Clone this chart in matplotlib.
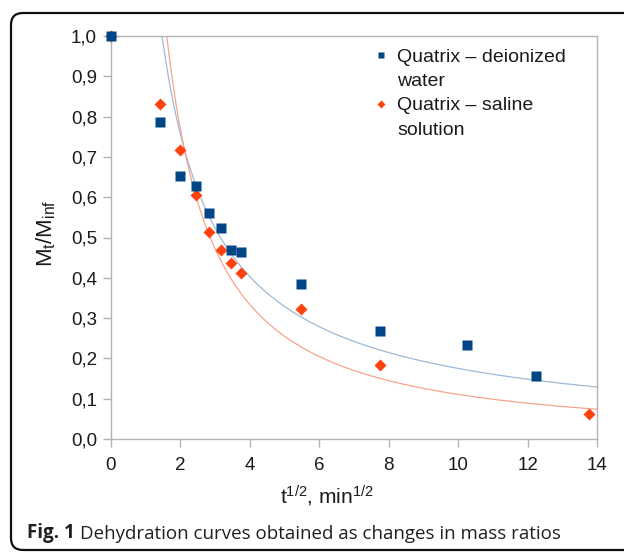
"""Dehydration curves of Quatrix in deionized water and saline solution."""

import numpy as np
import matplotlib
matplotlib.use("Agg")
import matplotlib.pyplot as plt
from matplotlib.lines import Line2D
from matplotlib.patches import FancyBboxPatch

BLUE = "#004586"
ORANGE = "#ff420e"
BLUE_TREND = "#9dbad6"
ORANGE_TREND = "#f7a48c"
AXIS_GRAY = "#b3b3b3"
TEXT = "#1a1a1a"

# measured points (t^1/2 in min^1/2, Mt/Minf)
deion_x = [0, 1.41, 2.0, 2.45, 2.83, 3.16, 3.46, 3.74, 5.48, 7.75, 10.25, 12.25]
deion_y = [1.0, 0.786, 0.653, 0.628, 0.562, 0.524, 0.469, 0.465, 0.384, 0.267, 0.233, 0.156]
saline_x = [0, 1.41, 2.0, 2.45, 2.83, 3.16, 3.46, 3.74, 5.48, 7.75, 13.78]
saline_y = [1.0, 0.831, 0.717, 0.605, 0.513, 0.469, 0.436, 0.411, 0.323, 0.184, 0.062]

# power trendlines y = a * x^b
deion_trend = (1.42, -0.909)
saline_trend = (1.77, -1.204)

labels = ["Quatrix – deionized", "water", "Quatrix – saline", "solution"]
xticks = [0, 2, 4, 6, 8, 10, 12, 14]
yticks = [0.0, 0.1, 0.2, 0.3, 0.4, 0.5, 0.6, 0.7, 0.8, 0.9, 1.0]
ytick_labels = [f"{v:.1f}".replace(".", ",") for v in yticks]
caption_bold = "Fig. 1"
caption_text = "Dehydration curves obtained as changes in mass ratios"

plt.rcParams["font.family"] = ["Liberation Sans", "DejaVu Sans"]
plt.rcParams["mathtext.fontset"] = "custom"
plt.rcParams["mathtext.rm"] = "Liberation Sans"
plt.rcParams["mathtext.it"] = "Liberation Sans"
plt.rcParams["mathtext.default"] = "regular"

fig = plt.figure(figsize=(6.24, 5.52), dpi=100)
ax = fig.add_axes([111 / 624, 1 - 439 / 552, 486 / 624, 403 / 552])

# trendlines
xs = np.linspace(0.5, 14, 500)
for (a, b), c in [(deion_trend, BLUE_TREND), (saline_trend, ORANGE_TREND)]:
    ax.plot(xs, a * xs ** b, color=c, lw=0.9, zorder=2)

ax.plot(saline_x, saline_y, "D", color=ORANGE, ms=6.5, mec="none", zorder=3,
        clip_on=False)
ax.plot(deion_x, deion_y, "s", color=BLUE, ms=6.5, mec="none", zorder=4,
        clip_on=False)

ax.set_xlim(0, 14)
ax.set_ylim(0, 1)
ax.set_xticks(xticks)
ax.set_yticks(yticks)
ax.set_yticklabels(ytick_labels)
for s in ax.spines.values():
    s.set_color(AXIS_GRAY)
    s.set_linewidth(1)
ax.tick_params(axis="both", colors=AXIS_GRAY, labelcolor=TEXT, labelsize=13.5,
               width=1, length=6)
ax.tick_params(axis="x", pad=7)
ax.tick_params(axis="y", pad=4)

ax.set_xlabel(r"t$^{1/2}$, min$^{1/2}$", fontsize=15, color=TEXT)
ax.xaxis.set_label_coords((327 - 111) / 486, -(484 - 439) / 403)
ax.set_ylabel(r"M$_t$/M$_{inf}$", fontsize=16, color=TEXT)
ax.yaxis.set_label_coords(-(111 - 58) / 486, (439 - 233) / 403)

handles = [
    Line2D([], [], ls="none", marker="s", color=BLUE, ms=5, mec="none"),
    Line2D([], [], ls="none"),
    Line2D([], [], ls="none", marker="D", color=ORANGE, ms=4.5, mec="none"),
    Line2D([], [], ls="none"),
]
leg = ax.legend(handles, labels, loc="upper left",
                bbox_to_anchor=((374 - 111) / 486, (439 - 48) / 403),
                frameon=False, fontsize=14, handlelength=0.7, handletextpad=0.5,
                labelspacing=0.35, borderpad=0, borderaxespad=0)
for t in leg.get_texts():
    t.set_color(TEXT)

# figure frame with rounded corners
frame = FancyBboxPatch((0.11, 0.02), 7.0, 5.37,
                       boxstyle="round,pad=0,rounding_size=0.12",
                       transform=fig.dpi_scale_trans, fill=False,
                       ec="#111111", lw=1.6)
fig.patches.append(frame)

t1 = fig.text(27 / 624, 1 - 538 / 552, caption_bold, family="Open Sans",
              weight="bold", fontsize=13.5, color="#231f20", va="baseline")
ax.annotate(caption_text, xy=(1, 0), xycoords=t1, xytext=(4, 0),
            textcoords="offset points", family="Open Sans", fontsize=13.5,
            color="#231f20", va="bottom", annotation_clip=False)

fig.savefig("out.png", dpi=100)
